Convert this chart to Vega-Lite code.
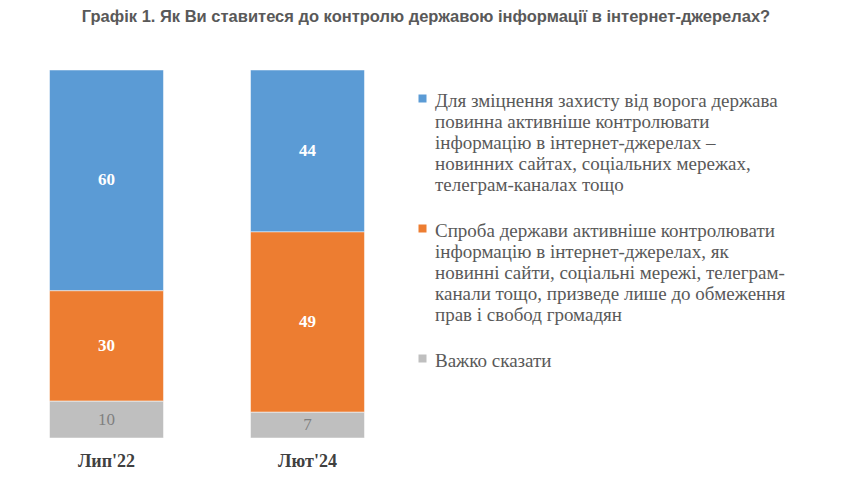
{
  "$schema": "https://vega.github.io/schema/vega-lite/v6.json",
  "autosize": "none",
  "width": 402,
  "height": 368,
  "padding": {"left": 6, "top": 70, "right": 433, "bottom": 50},
  "background": "white",
  "title": {
    "text": "Графік 1. Як Ви ставитеся до контролю державою інформації в інтернет-джерелах?",
    "anchor": "middle",
    "frame": "group",
    "dx": 219,
    "offset": 44,
    "font": "Liberation Sans Narrow, Liberation Sans, Arial",
    "fontSize": 16.5,
    "fontWeight": "bold",
    "color": "#595959"
  },
  "data": {
    "values": [
      {"period": "Лип'22", "category": "Для зміцнення захисту від ворога держава повинна активніше контролювати інформацію в інтернет-джерелах – новинних сайтах, соціальних мережах, телеграм-каналах тощо", "order": 3, "value": 60},
      {"period": "Лип'22", "category": "Спроба держави активніше контролювати інформацію в інтернет-джерелах, як новинні сайти, соціальні мережі, телеграм-канали тощо, призведе лише до обмеження прав і свобод громадян", "order": 2, "value": 30},
      {"period": "Лип'22", "category": "Важко сказати", "order": 1, "value": 10},
      {"period": "Лют'24", "category": "Для зміцнення захисту від ворога держава повинна активніше контролювати інформацію в інтернет-джерелах – новинних сайтах, соціальних мережах, телеграм-каналах тощо", "order": 3, "value": 44},
      {"period": "Лют'24", "category": "Спроба держави активніше контролювати інформацію в інтернет-джерелах, як новинні сайти, соціальні мережі, телеграм-канали тощо, призведе лише до обмеження прав і свобод громадян", "order": 2, "value": 49},
      {"period": "Лют'24", "category": "Важко сказати", "order": 1, "value": 7}
    ]
  },
  "transform": [
    {"stack": "value", "groupby": ["period"], "sort": [{"field": "order", "order": "ascending"}], "as": ["v0", "v1"]},
    {"calculate": "(datum.v0 + datum.v1) / 2", "as": "mid"}
  ],
  "encoding": {
    "x": {
      "field": "period",
      "type": "nominal",
      "sort": null,
      "scale": {"paddingInner": 0.433, "paddingOuter": 0.2165},
      "axis": {
        "title": null,
        "labelAngle": 0,
        "domain": false,
        "ticks": false,
        "labelPadding": 14,
        "labelFont": "Liberation Serif",
        "labelFontSize": 18,
        "labelFontWeight": "bold",
        "labelColor": "#404040"
      }
    }
  },
  "layer": [
    {
      "mark": {"type": "bar", "stroke": "white", "strokeWidth": 0.5},
      "encoding": {
        "y": {"field": "v0", "type": "quantitative", "scale": {"domain": [0, 100]}, "axis": null},
        "y2": {"field": "v1"},
        "color": {
          "field": "category",
          "type": "nominal",
          "sort": {"field": "order", "order": "descending"},
          "scale": {
            "domain": [
              "Для зміцнення захисту від ворога держава повинна активніше контролювати інформацію в інтернет-джерелах – новинних сайтах, соціальних мережах, телеграм-каналах тощо",
              "Спроба держави активніше контролювати інформацію в інтернет-джерелах, як новинні сайти, соціальні мережі, телеграм-канали тощо, призведе лише до обмеження прав і свобод громадян",
              "Важко сказати"
            ],
            "range": ["#5B9BD5", "#ED7D31", "#BFBFBF"]
          },
          "legend": {
            "title": null,
            "orient": "none",
            "legendX": 407,
            "legendY": 12,
            "symbolType": "M-1,0.75H1V2.75H-1Z",
            "symbolSize": 64,
            "symbolStrokeWidth": 0,
            "labelFont": "Liberation Serif",
            "labelFontSize": 19,
            "labelColor": "#595959",
            "labelLimit": 0,
            "labelOffset": 3,
            "labelBaseline": "top",
            "rowPadding": 17,
            "encode": {"labels": {"update": {"lineHeight": {"value": 21.7}}}},
            "labelExpr": "datum.index == 0 ? ['Для зміцнення захисту від ворога держава', 'повинна активніше контролювати', 'інформацію в інтернет-джерелах –', 'новинних сайтах, соціальних мережах,', 'телеграм-каналах тощо'] : datum.index == 1 ? ['Спроба держави активніше контролювати', 'інформацію в інтернет-джерелах, як', 'новинні сайти, соціальні мережі, телеграм-', 'канали тощо, призведе лише до обмеження', 'прав і свобод громадян'] : datum.label"
          }
        }
      }
    },
    {
      "transform": [{"filter": "datum.order > 1"}],
      "mark": {"type": "text", "font": "Liberation Serif", "fontSize": 17, "fontWeight": "bold", "color": "white"},
      "encoding": {
        "y": {"field": "mid", "type": "quantitative"},
        "text": {"field": "value", "type": "quantitative"}
      }
    },
    {
      "transform": [{"filter": "datum.order == 1"}],
      "mark": {"type": "text", "font": "Liberation Serif", "fontSize": 17, "color": "#7F7F7F"},
      "encoding": {
        "y": {"field": "mid", "type": "quantitative"},
        "text": {"field": "value", "type": "quantitative"}
      }
    }
  ],
  "config": {"view": {"stroke": null}}
}
